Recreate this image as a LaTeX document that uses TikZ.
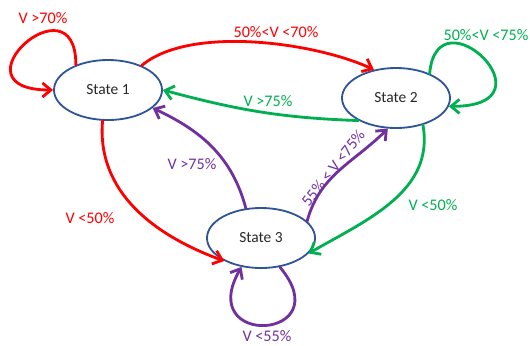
\documentclass[tikz,border=0pt]{standalone}
\usepackage{fontspec}
\setmainfont{Carlito}
\usepackage{tikz}
\usetikzlibrary{arrows.meta, positioning, shapes.geometric}
\usepackage{xcolor}
\definecolor{vred}{RGB}{255,0,0}
\definecolor{vgreen}{RGB}{0,176,80}
\definecolor{vpurple}{RGB}{112,48,160}
\definecolor{stateblue}{RGB}{47,85,151}
\definecolor{statetext}{RGB}{40,40,40}

\begin{document}
\begin{tikzpicture}[
    x=0.025cm, y=0.025cm,
    state node/.style={ellipse, draw=stateblue, line width=1.3pt, minimum width=2.7cm, minimum height=1.5cm, inner sep=0pt, text=statetext, font=\fontsize{11}{13}\selectfont},
    link/.style={line width=2pt, line cap=round, -{Straight Barb[length=6pt, width=10pt]}},
    red link/.style={link, draw=vred},
    green link/.style={link, draw=vgreen},
    purple link/.style={link, draw=vpurple},
    red label/.style={text=vred, font=\fontsize{11.5}{13}\selectfont},
    green label/.style={text=vgreen, font=\fontsize{11.5}{13}\selectfont},
    purple label/.style={text=vpurple, font=\fontsize{11.5}{13}\selectfont}
]
    \useasboundingbox (0,0) rectangle (530,345);

    % States
    \node[state node] (S1) at (108, 255) {State 1};
    \node[state node] (S2) at (396, 247) {State 2};
    \node[state node] (S3) at (261, 107) {State 3};

    % Self loops
    \draw[red link] (S1.142) .. controls +(90:90) and +(180:105) .. (S1.west);
    \draw[green link] (S2.36) .. controls +(85:85) and +(0:110) .. (S2.351);
    \draw[purple link] (S3.303) .. controls +(-50:95) and +(-120:95) .. (S3.236);

    % Transitions
    \draw[red link] (S1.36) to[out=40, in=155, looseness=0.7] (S2.128);
    \draw[green link] (S2.211) to[out=178, in=-15] (S1.east);
    \draw[green link] (S2.315) to[out=-80, in=30] (S3.-18);
    \draw[purple link] (S3.20) to[out=75, in=225] (S2.255);
    \draw[purple link] (S3.117) to[out=105, in=-25] (S1.-22);
    \draw[red link] (S1.260) to[out=265, in=160] (S3.212);

    % Labels
    \node[red label] (L1) at (43, 327) {V >70\%};
    \node[red label] (L2) at (276, 313) {50\%<V <70\%};
    \node[green label] (L3) at (268, 244) {V >75\%};
    \node[green label] (L4) at (486, 310) {50\%<V <75\%};
    \node[green label] (L5) at (433, 140) {V <50\%};
    \node[purple label, rotate=52] (L6) at (333, 177) {55\% < V <75\%};
    \node[purple label] (L7) at (192, 181) {V >75\%};
    \node[red label] (L8) at (90, 127) {V <50\%};
    \node[purple label] (L9) at (267, 9) {V <55\%};
\end{tikzpicture}
\end{document}
